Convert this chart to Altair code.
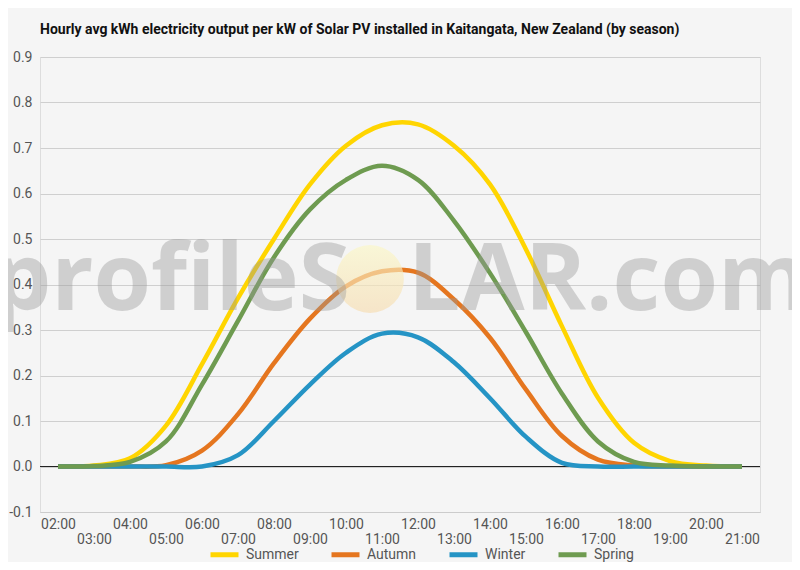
import altair as alt
import pandas as pd

TITLE = ("Hourly avg kWh electricity output per kW of Solar PV installed in "
         "Kaitangata, New Zealand (by season)")

hours = list(range(2, 22))
seasons = ["Summer", "Autumn", "Winter", "Spring"]
season_colors = ["#FFD500", "#E5761F", "#2594C5", "#6E9B50"]

# values, one per hour 02:00 .. 21:00
summer = [0, 0.002, 0.018, 0.09, 0.225, 0.37, 0.50, 0.62, 0.705, 0.75,
          0.752, 0.705, 0.62, 0.477, 0.308, 0.151, 0.052, 0.012, 0.002, 0]
autumn = [0, 0, 0, 0.003, 0.035, 0.115, 0.227, 0.325, 0.396, 0.429,
          0.426, 0.367, 0.283, 0.169, 0.067, 0.015, 0.002, 0, 0, 0]
winter = [0, 0, 0, 0, 0, 0.025, 0.10, 0.18, 0.25, 0.292,
          0.284, 0.229, 0.15, 0.065, 0.008, 0, 0, 0, 0, 0]
spring = [0, 0.001, 0.01, 0.055, 0.18, 0.32, 0.46, 0.565, 0.63, 0.661,
          0.63, 0.54, 0.425, 0.295, 0.16, 0.055, 0.01, 0.002, 0, 0]

y_ticks = [-0.1, -0.05, 0.0, 0.05, 0.1, 0.15, 0.2, 0.25, 0.3, 0.35, 0.4,
           0.45, 0.5, 0.55, 0.6, 0.65, 0.7, 0.75, 0.8, 0.85, 0.9]

rows = []
for name, vals in zip(seasons, [summer, autumn, winter, spring]):
    for h, v in zip(hours, vals):
        rows.append({"hour": h, "kwh": v, "season": name})
df = pd.DataFrame(rows)

major = "abs(round(datum.value * 100)) % 10 == 0"

x_enc = alt.X(
    "hour:Q",
    scale=alt.Scale(domain=[1.5, 21.5], nice=False, zero=False),
    axis=alt.Axis(
        values=hours,
        labelExpr="(datum.value < 10 ? '0' : '') + datum.value + ':00'",
        # odd hours drop to a second row, like the original
        labelPadding={"condition": {"test": "datum.value % 2 == 1", "value": 20}, "value": 5},
        labelOverlap=False,
        labelFlush=False,
        ticks=False,
        grid=False,
        domainColor="#cccccc",
        labelFontSize=14,
        labelColor="#555555",
        title=None,
    ),
)
y_enc = alt.Y(
    "kwh:Q",
    scale=alt.Scale(domain=[-0.1, 0.9], nice=False),
    axis=alt.Axis(
        values=y_ticks,
        labelExpr=f"{major} ? replace(format(datum.value, '.1f'), '\u2212', '-') : ''",
        gridColor={"condition": {"test": major, "value": "#cfcfcf"}, "value": "#e3e3e3"},
        domain=False,
        ticks=False,
        labelFontSize=14,
        labelColor="#555555",
        labelPadding=8,
        title=None,
    ),
)

lines = (
    alt.Chart(df)
    .mark_line(strokeWidth=4.5, interpolate="catmull-rom")
    .encode(
        x=x_enc,
        y=y_enc,
        color=alt.Color(
            "season:N",
            scale=alt.Scale(domain=seasons, range=season_colors),
            legend=alt.Legend(
                orient="none",
                legendX=168,
                legendY=481,
                direction="horizontal",
                title=None,
                symbolType="stroke",
                symbolStrokeWidth=5,
                symbolSize=784,
                labelFontSize=14,
                labelColor="#555555",
                labelOffset=5,
                columnPadding=22,
                padding=0,
            ),
        ),
        order=alt.Order("hour:Q"),
    )
)

zero_line = (
    alt.Chart(pd.DataFrame({"y": [0.0]}))
    .mark_rule(color="#222222", strokeWidth=1)
    .encode(y="y:Q")
)

# profileSOLAR.com watermark, drawn over the lines
one = pd.DataFrame({"k": [0]})
sun = (
    alt.Chart(one)
    .mark_circle(
        size=4600,
        opacity=0.65,
        fill=alt.Gradient(
            gradient="linear", x1=0, y1=0, x2=0, y2=1,
            stops=[alt.GradientStop(color="#fbf7c6", offset=0),
                   alt.GradientStop(color="#f6dcb0", offset=1)],
        ),
    )
    .encode(x=alt.value(330), y=alt.value(222))
)
mark_left = (
    alt.Chart(one)
    .mark_text(text="profileS", align="right", baseline="alphabetic",
               font="Open Sans", fontWeight="bold", fontSize=93,
               color="#999999", opacity=0.4)
    .encode(x=alt.value(310), y=alt.value(253))
)
mark_right = (
    alt.Chart(one)
    .mark_text(text="LAR.com", align="left", baseline="alphabetic",
               font="Open Sans", fontWeight="bold", fontSize=93,
               color="#999999", opacity=0.4)
    .encode(x=alt.value(368), y=alt.value(253))
)

chart = (
    alt.layer(zero_line, lines, sun, mark_left, mark_right)
    .properties(
        width=720,
        height=455,
        autosize=alt.AutoSizeParams(type="none"),
        padding={"left": 32, "top": 49, "right": 32, "bottom": 50},
        title=alt.Title(TITLE, anchor="start", frame="group", fontSize=14,
                        fontWeight="bold", font="Roboto", color="#111111", offset=13),
        background="#f5f5f5",
    )
    .configure_view(stroke=None)
    .configure(font="Roboto")
)

chart.save("out.html", embed_options={"renderer": "svg", "actions": False})
